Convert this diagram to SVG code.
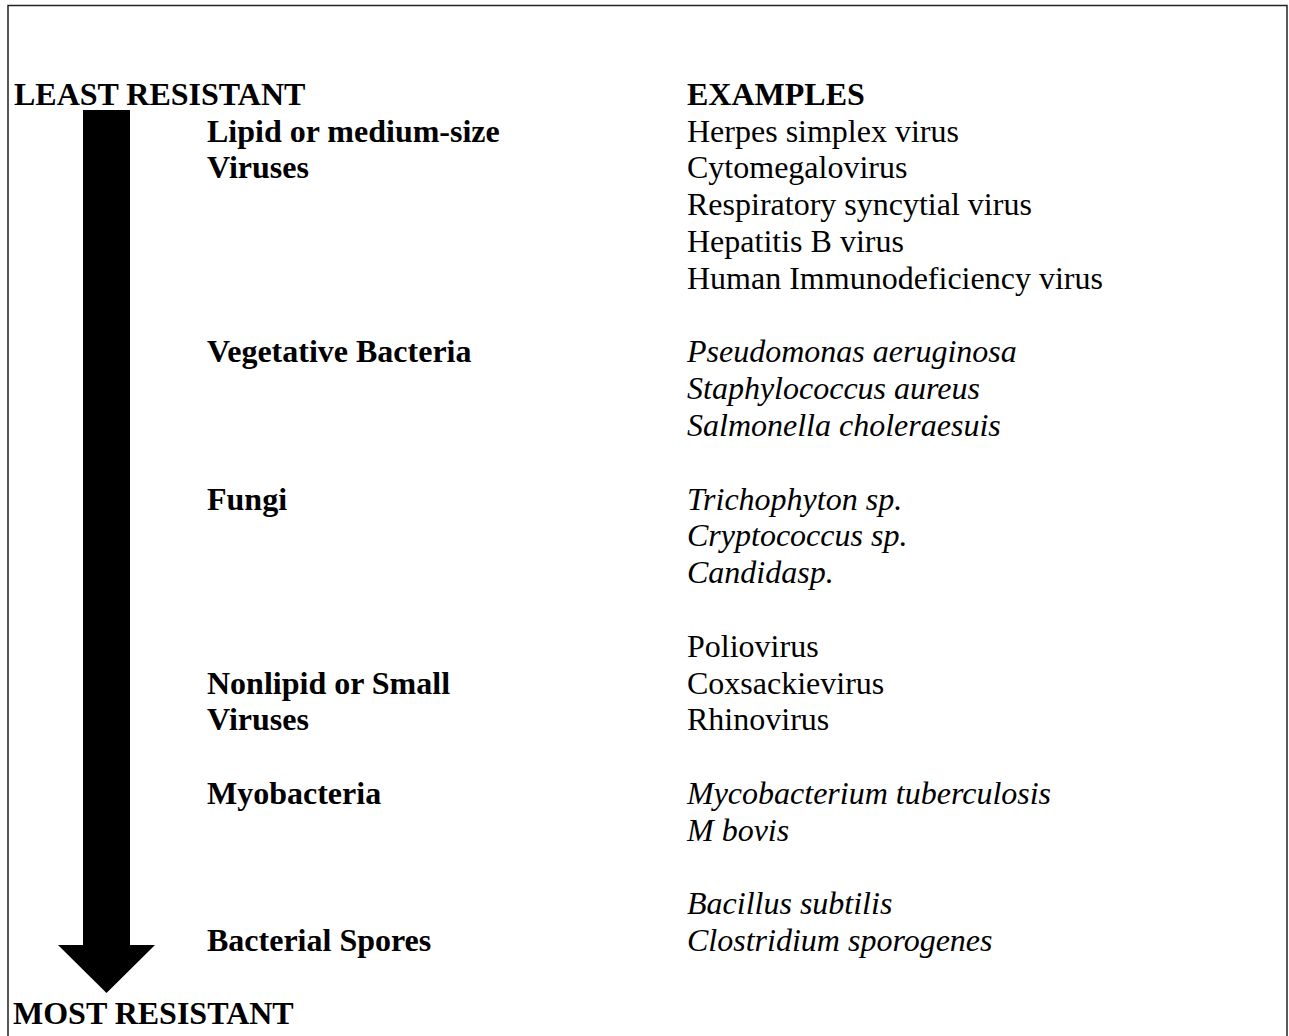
<svg xmlns="http://www.w3.org/2000/svg" width="1289" height="1036" viewBox="0 0 1289 1036">
<style>
text{font-family:"Liberation Serif","Times New Roman",serif;font-size:32px;fill:#000}
.b{font-weight:bold}
.i{font-style:italic}
</style>
<rect x="0" y="0" width="1289" height="1036" fill="#fff"/>
<g id="frame" fill="none" stroke="#222" stroke-width="1.5">
<path d="M8,1036 V5.5 H1287 V1036"/>
</g>
<g id="connectors">
<path id="arrow" d="M83,110 H130 V945 H155 L106.5,993 L58,945 H83 Z" fill="#000"/>
</g>
<g id="headers">
<text class="b" x="14" y="105">LEAST RESISTANT</text>
<text class="b" x="687" y="105">EXAMPLES</text>
<text class="b" x="13" y="1024">MOST RESISTANT</text>
</g>
<g id="lipid-viruses">
<text class="b" x="207" y="141.6">Lipid or medium-size</text>
<text class="b" x="207" y="178.4">Viruses</text>
<text x="687" y="141.6">Herpes simplex virus</text>
<text x="687" y="178.4">Cytomegalovirus</text>
<text x="687" y="215.2">Respiratory syncytial virus</text>
<text x="687" y="252">Hepatitis B virus</text>
<text x="687" y="288.8">Human Immunodeficiency virus</text>
</g>
<g id="vegetative-bacteria">
<text class="b" x="207" y="362.4">Vegetative Bacteria</text>
<text class="i" x="687" y="362.4">Pseudomonas aeruginosa</text>
<text class="i" x="687" y="399.2">Staphylococcus aureus</text>
<text class="i" x="687" y="436">Salmonella choleraesuis</text>
</g>
<g id="fungi">
<text class="b" x="207" y="509.6">Fungi</text>
<text class="i" x="687" y="509.6">Trichophyton sp.</text>
<text class="i" x="687" y="546.4">Cryptococcus sp.</text>
<text class="i" x="687" y="583.2">Candidasp.</text>
</g>
<g id="nonlipid-viruses">
<text x="687" y="656.8">Poliovirus</text>
<text class="b" x="207" y="693.6">Nonlipid or Small</text>
<text class="b" x="207" y="730.4">Viruses</text>
<text x="687" y="693.6">Coxsackievirus</text>
<text x="687" y="730.4">Rhinovirus</text>
</g>
<g id="myobacteria">
<text class="b" x="207" y="804">Myobacteria</text>
<text class="i" x="687" y="804">Mycobacterium tuberculosis</text>
<text class="i" x="687" y="840.8">M bovis</text>
</g>
<g id="bacterial-spores">
<text class="i" x="687" y="914.4">Bacillus subtilis</text>
<text class="b" x="207" y="951.2">Bacterial Spores</text>
<text class="i" x="687" y="951.2">Clostridium sporogenes</text>
</g>
</svg>
